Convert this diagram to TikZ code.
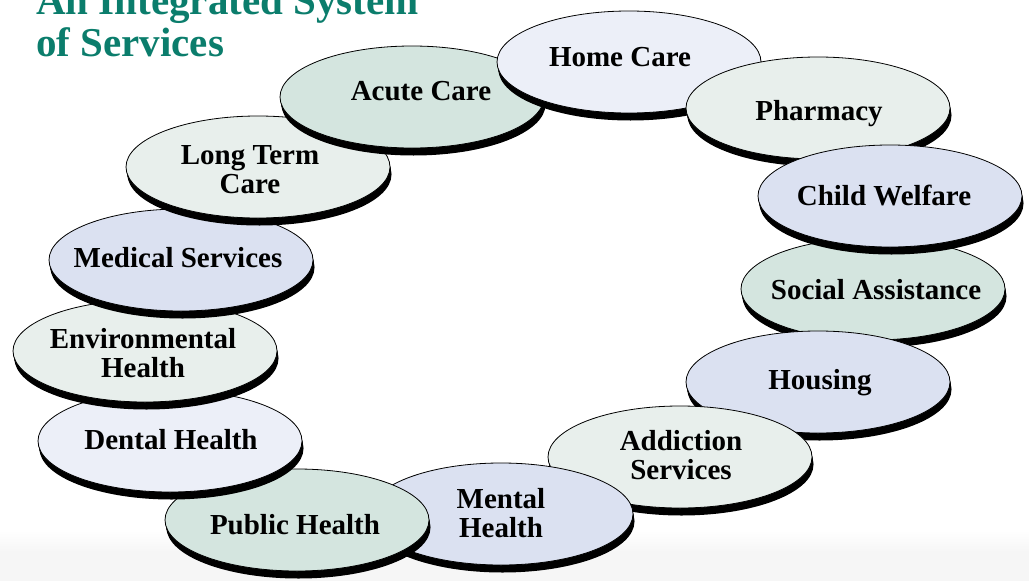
\documentclass[tikz,border=0pt]{standalone}
\usepackage{fontspec}
\setmainfont{Liberation Serif}
\usetikzlibrary{shapes.geometric,shadows}

\definecolor{titleteal}{HTML}{0B7D6C}
\definecolor{paleGreen}{HTML}{E8EFEC}
\definecolor{sageGreen}{HTML}{D4E5DF}
\definecolor{paleLilac}{HTML}{ECEFF8}
\definecolor{lilacBlue}{HTML}{DBE1F1}
\definecolor{bandgray}{HTML}{F6F6F6}

\tikzset{
  disc/.style={ellipse, draw=black, line width=0.8pt,
    minimum width=264pt, minimum height=102pt, inner sep=0pt,
    general shadow={fill=black, shadow xshift=0.4pt, shadow yshift=-2pt},
    general shadow={fill=black, shadow xshift=0.8pt, shadow yshift=-4pt},
    general shadow={fill=black, shadow xshift=1.2pt, shadow yshift=-6pt},
    general shadow={fill=black, shadow xshift=1.5pt, shadow yshift=-7.5pt}},
  lbl/.style={font=\bfseries\fontsize{29}{29}\selectfont, align=center, inner sep=0pt},
  oneline/.style={lbl, text height=19pt, text depth=0pt},
}

\begin{document}
\begin{tikzpicture}[x=1pt, y=-1pt]
  \useasboundingbox (0,0) rectangle (1029,581);
  % faint grey strip along the bottom edge, fading in from white
  \shade[top color=white, bottom color=bandgray] (0,530) rectangle (1029,552);
  \fill[bandgray] (0,552) rectangle (1029,581);

  % title
  \node[font=\bfseries\fontsize{41}{42}\selectfont, text=titleteal, align=left,
        anchor=south west, inner sep=0pt] (title) at (36,57)
        {An Integrated System\\of Services};

  % ring of services, back to front
  \node[disc, fill=sageGreen] (social) at (873,289) {};
  \node[oneline] (socialT) at (876,290) {Social Assistance};

  \node[disc, fill=lilacBlue] (housing) at (818,382) {};
  \node[oneline] (housingT) at (820,380) {Housing};

  \node[disc, fill=paleGreen] (addiction) at (680,457) {};
  \node[lbl] (addictionT) at (681,455) {Addiction\\Services};

  \node[disc, fill=lilacBlue] (mental) at (501,514) {};
  \node[lbl] (mentalT) at (501,513) {Mental\\Health};

  \node[disc, fill=sageGreen] (public) at (297,520) {};
  \node[oneline] (publicT) at (295,525) {Public Health};

  \node[disc, fill=paleLilac] (dental) at (170,441) {};
  \node[oneline] (dentalT) at (171,440) {Dental Health};

  \node[disc, fill=paleGreen] (env) at (145,351) {};
  \node[lbl] (envT) at (143,353) {Environmental\\Health};

  \node[disc, fill=lilacBlue] (medical) at (181,260) {};
  \node[oneline] (medicalT) at (178,258) {Medical Services};

  \node[disc, fill=paleGreen] (longterm) at (258,167) {};
  \node[lbl] (longtermT) at (250,170) {Long Term\\Care};

  \node[disc, fill=sageGreen] (acute) at (412,97) {};
  \node[oneline] (acuteT) at (421,91) {Acute Care};

  \node[disc, fill=paleLilac] (home) at (629,62) {};
  \node[oneline] (homeT) at (620,57) {Home Care};

  \node[disc, fill=paleGreen] (pharmacy) at (818,108) {};
  \node[oneline] (pharmacyT) at (819,111) {Pharmacy};

  \node[disc, fill=lilacBlue] (child) at (890,196) {};
  \node[oneline] (childT) at (884,196) {Child Welfare};
\end{tikzpicture}
\end{document}
